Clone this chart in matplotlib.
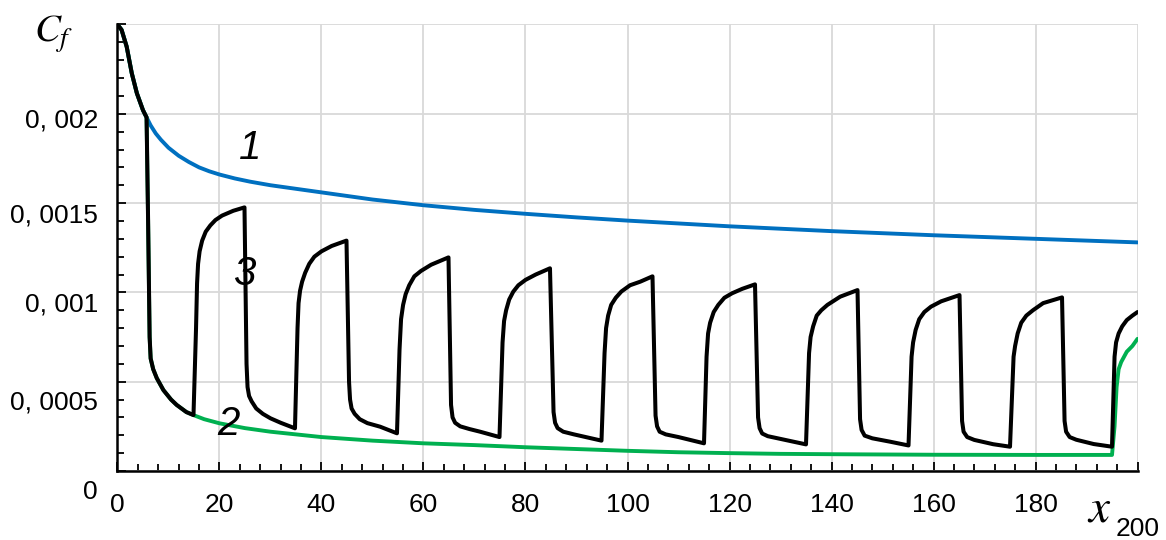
import matplotlib
matplotlib.use('Agg')
import matplotlib.pyplot as plt
from matplotlib import font_manager
from matplotlib.transforms import ScaledTranslation
from matplotlib.ticker import MultipleLocator

# ---------------- data ----------------
x_ticks = [0, 20, 40, 60, 80, 100, 120, 140, 160, 180, 200]
x_tick_labels = ['0', '20', '40', '60', '80', '100', '120', '140', '160', '180', '200']
y_ticks = [0, 0.0005, 0.001, 0.0015, 0.002, 0.0025]
y_tick_labels = ['0', '0, 0005', '0, 001', '0, 0015', '0, 002', '']

# curve 1 (blue)
c1_x = [0, 0.8, 1.8, 2.8, 3.8, 5.0, 5.7, 6.5, 7.5, 8.5, 10, 12, 14, 16, 18, 20, 23,
        26, 30, 35, 40, 50, 60, 70, 80, 90, 100, 120, 140, 160, 180, 200]
c1_y = [0.00250, 0.00247, 0.002376, 0.002227, 0.002115, 0.00202, 0.00198, 0.001935,
        0.00189, 0.001855, 0.00181, 0.001765, 0.00173, 0.00170, 0.001678, 0.00166,
        0.001638, 0.00162, 0.00160, 0.00158, 0.00156, 0.00152, 0.001488, 0.001462,
        0.00144, 0.00142, 0.001402, 0.00137, 0.001343, 0.00132, 0.00130, 0.00128]

# curve 2 (green)
c2_x = [0, 0.8, 1.8, 2.8, 3.8, 5.0, 5.7, 6.0, 6.3, 6.5, 7.0, 7.7, 9.0, 10.5, 11.6,
        13.5, 14.9, 17, 20, 25, 30, 40, 50, 60, 70, 80, 90, 100, 110, 120, 130, 140,
        160, 180, 195.0, 195.5, 195.9, 196.3, 196.8, 197.9, 199.0, 200]
c2_y = [0.00250, 0.00247, 0.002376, 0.002227, 0.002115, 0.00202, 0.00198, 0.0014,
        0.00075, 0.00063, 0.00057, 0.00052, 0.000453, 0.00040, 0.00037, 0.00033,
        0.000313, 0.00029, 0.000267, 0.00024, 0.00022, 0.00019, 0.00017, 0.000155,
        0.000145, 0.000133, 0.000123, 0.000113, 0.000105, 0.0001, 0.000096, 0.000094,
        0.000091, 0.00009, 0.00009, 0.00025, 0.00047, 0.00057, 0.00061, 0.000668,
        0.0007, 0.00074]

# curve 3 (black) – read segment by segment
c3_start_x = [0, 0.8, 1.8, 2.8, 3.8, 5.0, 5.7, 6.0, 6.3, 6.5, 7.0, 7.7, 9.0, 10.5,
              11.6, 13.5, 14.9]
c3_start_y = [0.00250, 0.00247, 0.002376, 0.002227, 0.002115, 0.00202, 0.00198,
              0.0014, 0.00075, 0.00063, 0.00057, 0.00052, 0.000453, 0.00040, 0.00037,
              0.00033, 0.000313]
c3_cyc1_x = [15.4, 15.6, 15.8, 16.1, 16.6, 17.3, 18.2, 19.2, 20.5, 22.7, 24.9,
             25.3, 25.5, 25.8, 26.3, 27.2, 28.5, 30.0, 32.0, 34.8]
c3_cyc1_y = [0.00080, 0.00105, 0.00116, 0.00123, 0.00129, 0.00134, 0.001375, 0.001405,
             0.00143, 0.001457, 0.001476,
             0.00060, 0.00047, 0.00042, 0.00039, 0.00035, 0.00032, 0.000295, 0.00027,
             0.000239]
c3_cyc2_x = [35.3, 35.5, 35.8, 36.2, 36.8, 37.6, 38.6, 40.0, 42.0, 44.9,
             45.4, 45.6, 45.9, 46.5, 47.5, 49.0, 51.5, 54.8]
c3_cyc2_y = [0.00080, 0.00094, 0.00101, 0.00106, 0.00111, 0.00116, 0.00120, 0.00123,
             0.00126, 0.00129,
             0.00050, 0.00040, 0.00035, 0.00032, 0.00029, 0.000268, 0.000248, 0.000211]
c3_cyc3_x = [55.3, 55.6, 56.0, 56.5, 57.2, 58.2, 59.5, 61.5, 64.9,
             65.4, 65.7, 66.2, 67.2, 69.0, 71.1, 74.9]
c3_cyc3_y = [0.00068, 0.00085, 0.00093, 0.00099, 0.00104, 0.00109, 0.00112, 0.001155,
             0.001196,
             0.00037, 0.00030, 0.00027, 0.00025, 0.000235, 0.00022, 0.00019]
c3_cyc4_x = [75.5, 75.8, 76.2, 76.8, 77.6, 78.6, 80.0, 82.0, 84.8,
             85.5, 85.8, 86.3, 87.4, 89.5, 92.0, 94.9]
c3_cyc4_y = [0.00072, 0.00084, 0.0009, 0.00096, 0.001004, 0.00104, 0.00107, 0.0011,
             0.001135,
             0.00033, 0.00027, 0.00024, 0.00022, 0.000205, 0.000189, 0.00017]
c3_cyc5_x = [95.5, 95.8, 96.2, 96.8, 97.7, 98.8, 100.5, 102.5, 104.9,
             105.5, 105.8, 106.3, 107.5, 110.0, 112.3, 115.0]
c3_cyc5_y = [0.00066, 0.0008, 0.00087, 0.00093, 0.00097, 0.001005, 0.00104, 0.00106,
             0.00109,
             0.00031, 0.00025, 0.00022, 0.000205, 0.00019, 0.000174, 0.000155]
c3_cyc6_x = [115.5, 115.8, 116.2, 116.9, 117.8, 119.0, 120.5, 122.5, 125.0,
             125.6, 125.9, 126.4, 127.5, 130.0, 131.9, 135.0]
c3_cyc6_y = [0.00064, 0.00077, 0.00083, 0.00089, 0.00093, 0.00097, 0.000995, 0.00102,
             0.001045,
             0.0003, 0.00024, 0.00021, 0.000195, 0.00018, 0.000168, 0.000149]
c3_cyc7_x = [135.6, 135.9, 136.4, 137.1, 138.0, 139.2, 141.7, 145.1,
             145.6, 145.9, 146.5, 148.0, 151.5, 155.1]
c3_cyc7_y = [0.00066, 0.00075, 0.00081, 0.00087, 0.0009, 0.00093, 0.000976, 0.001013,
             0.00029, 0.00023, 0.000198, 0.000183, 0.000164, 0.000143]
c3_cyc8_x = [155.7, 156.0, 156.5, 157.2, 158.2, 159.5, 161.5, 165.1,
             165.6, 165.9, 166.6, 168.0, 171.7, 175.0]
c3_cyc8_y = [0.00064, 0.00072, 0.00079, 0.00085, 0.00089, 0.00092, 0.00095, 0.000985,
             0.00028, 0.00022, 0.00019, 0.000174, 0.00015, 0.000136]
c3_cyc9_x = [175.7, 176.0, 176.5, 177.2, 178.2, 179.5, 181.5, 185.2,
             185.7, 186.0, 186.7, 188.0, 191.4, 195.0]
c3_cyc9_y = [0.00064, 0.0007, 0.00077, 0.00083, 0.00087, 0.0009, 0.00094, 0.000972,
             0.00028, 0.00022, 0.00019, 0.000175, 0.000151, 0.000136]
c3_end_x = [195.5, 195.8, 196.3, 197.0, 197.9, 199.0, 200.0]
c3_end_y = [0.00064, 0.00072, 0.00077, 0.00081, 0.000845, 0.00087, 0.00089]

curve_labels = ['1', '2', '3']
curve_label_x = [26.0, 21.7, 24.8]
curve_label_y = [0.001808, 0.000263, 0.001103]

# ---------------- fonts ----------------
available = {f.name for f in font_manager.fontManager.ttflist}


def pick(*names):
    for n in names:
        if n in available:
            return n
    return 'DejaVu Sans'


NARROW = 'Liberation Sans Narrow' in available
SANS = pick('Liberation Sans Narrow', 'Liberation Sans')
TICK_FS = 20.5 if NARROW else 19
plt.rcParams['font.family'] = [SANS, 'DejaVu Sans']
plt.rcParams['mathtext.fontset'] = 'stix'

# ---------------- figure ----------------
fig = plt.figure(figsize=(11.66, 5.40), dpi=100)
ax = fig.add_axes([0.10077, 0.12778, 0.87479, 0.82685])

c3_x = (c3_start_x + c3_cyc1_x + c3_cyc2_x + c3_cyc3_x + c3_cyc4_x + c3_cyc5_x +
        c3_cyc6_x + c3_cyc7_x + c3_cyc8_x + c3_cyc9_x + c3_end_x)
c3_y = (c3_start_y + c3_cyc1_y + c3_cyc2_y + c3_cyc3_y + c3_cyc4_y + c3_cyc5_y +
        c3_cyc6_y + c3_cyc7_y + c3_cyc8_y + c3_cyc9_y + c3_end_y)

ax.plot(c1_x, c1_y, color='#0070C0', lw=2.8, solid_joinstyle='round',
        solid_capstyle='round', zorder=3)
ax.plot(c2_x, c2_y, color='#00B050', lw=2.8, solid_joinstyle='round',
        solid_capstyle='round', zorder=3)
ax.plot(c3_x, c3_y, color='black', lw=2.9, solid_joinstyle='round',
        solid_capstyle='round', zorder=4)

ax.set_xlim(0, 200)
ax.set_ylim(0, 0.0025)
ax.set_xticks(x_ticks)
ax.set_xticklabels(x_tick_labels)
ax.set_yticks(y_ticks)
ax.set_yticklabels(y_tick_labels)
ax.xaxis.set_minor_locator(MultipleLocator(4))
ax.yaxis.set_minor_locator(MultipleLocator(0.0001))
ax.grid(True, which='major', color='#d9d9d9', lw=1.3, zorder=0)
ax.set_axisbelow(True)

for s in ['top', 'right']:
    ax.spines[s].set_visible(False)
for s in ['left', 'bottom']:
    ax.spines[s].set_linewidth(1.8)
    ax.spines[s].set_zorder(5)

ax.tick_params(which='major', direction='in', length=6.5, width=1.3, color='black',
               labelsize=TICK_FS)
ax.tick_params(which='minor', direction='in', length=4.8, width=1.3, color='black')
ax.tick_params(axis='y', which='major', pad=14)
ax.tick_params(axis='x', which='major', pad=16)

# individual vertical offsets of y tick labels (pixels, downward)
y_label_shift_px = [19, 18, 10, 10, 4.5, 0]
for lab, d in zip(ax.get_yticklabels(), y_label_shift_px):
    lab.set_transform(lab.get_transform() +
                      ScaledTranslation(0, -d / 100, fig.dpi_scale_trans))
# the last x tick label sits lower (kept just inside the canvas)
xl = ax.get_xticklabels()[-1]
xl.set_transform(xl.get_transform() + ScaledTranslation(0, -0.24, fig.dpi_scale_trans))

# axis titles
fig.text(34 / 1166, 1 - 34 / 540, r'$C_f$', fontsize=28, ha='left', va='center')
fig.text(1099 / 1166, 1 - 510 / 540, r'$x$', fontsize=34, ha='center', va='center')

# curve labels
for t, lx, ly in zip(curve_labels, curve_label_x, curve_label_y):
    ax.text(lx, ly, t, fontsize=29, style='italic', ha='center', va='center',
            family=['Liberation Sans', 'DejaVu Sans'], zorder=6)

fig.savefig('out.png', dpi=100)
